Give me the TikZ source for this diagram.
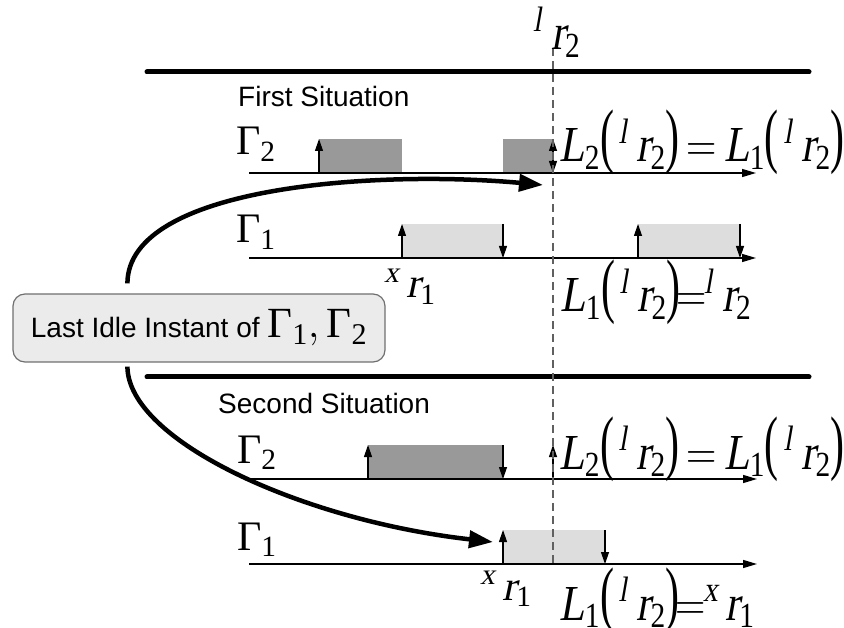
\documentclass[tikz,border=0pt]{standalone}
\usepackage{fix-cm}
\usepackage{amsmath}
\usepackage{graphicx}
\usepackage{fontspec}
\setmainfont{Liberation Serif}
\setsansfont{Liberation Sans}
\newfontfamily\tmsfont{Liberation Serif}
\newfontfamily\tmsit{Liberation Serif}[FakeSlant=0.21]
\usetikzlibrary{arrows.meta,calc}
\definecolor{darkbox}{HTML}{999999}
\definecolor{lightbox}{HTML}{DDDDDD}
\definecolor{boxfill}{HTML}{EBEBEB}
\definecolor{boxborder}{HTML}{707070}
\definecolor{dashgray}{HTML}{606060}
\newcommand{\ti}[1]{\text{\tmsit #1}}
\newcommand{\tu}[1]{\text{\tmsfont #1}}
\newcommand{\lpar}{\mathopen{\raisebox{0.04em}{\scalebox{1}[1.42]{\tmsfont(}}}}
\newcommand{\rpar}{\mathclose{\raisebox{0.04em}{\scalebox{1}[1.42]{\tmsfont)}}}}
\newcommand{\lrt}{{}^{\ti{l}}\mkern4mu\ti{r}_{\tu{2}}}
\newcommand{\xro}{{}^{\ti{x}}\mkern3mu\ti{r}_{\tu{1}}}
\newcommand{\Lof}[1]{\ti{L}_{\tu{#1}}\lpar\mkern2mu\lrt\rpar}
\newcommand{\vstretch}[1]{\scalebox{1}[1.2]{#1}}
\begin{document}
\begin{tikzpicture}[x=1pt,y=-1pt,
  axis/.style={line width=1.3pt, -{Triangle[length=14pt,width=8pt]}},
  evarrow/.style={line width=1.2pt, -{Triangle[length=12pt,width=8pt]}},
  evboth/.style={line width=1.2pt, {Triangle[length=12pt,width=8pt]}-{Triangle[length=12pt,width=8pt]}},
  rule/.style={line width=5pt, line cap=round},
  bigarrow/.style={line width=4.5pt, -{Triangle[length=24pt,width=17pt]}},
  darkbusy/.style={fill=darkbox},
  lightbusy/.style={fill=lightbox},
  gam/.style={font=\tmsfont\fontsize{42}{48}\selectfont, inner sep=0pt, anchor=base west},
  eq/.style={font=\tmsfont\fontsize{42}{48}\selectfont, inner sep=0pt, anchor=base west},
  sit/.style={font=\sffamily\fontsize{28}{32}\selectfont, inner sep=0pt, anchor=west},
  instant/.style={draw=dashgray, line width=1.4pt, dash pattern=on 8pt off 5pt},
]
\useasboundingbox (0,0) rectangle (844,628);

% thick separators
\coordinate (r1w) at (147,72); \coordinate (r1e) at (809,72);
\coordinate (r2w) at (147,377); \coordinate (r2e) at (809,377);
\draw[rule] (r1w) -- (r1e);
\draw[rule] (r2w) -- (r2e);

% situation titles
\node[sit] (first) at (238,96) {First Situation};
\node[sit] (second) at (218,403) {Second Situation};

% axes
\coordinate (g2as) at (249,173); \coordinate (g2ae) at (756,173);
\coordinate (g1as) at (249,258); \coordinate (g1ae) at (756,258);
\coordinate (h2as) at (249,479); \coordinate (h2ae) at (757,479);
\coordinate (h1as) at (249,564); \coordinate (h1ae) at (757,564);

% busy periods, first situation
\fill[darkbusy] (319,139) rectangle (402,173);
\fill[darkbusy] (503,139) rectangle (553,173);
\fill[lightbusy] (402,224) rectangle (503,258);
\fill[lightbusy] (638,224) rectangle (740,258);
% busy periods, second situation
\fill[darkbusy] (368,445) rectangle (503,479);
\fill[lightbusy] (503,530) rectangle (605,564);

\draw[axis] (g2as) -- (g2ae);
\draw[axis] (g1as) -- (g1ae);
\draw[axis] (h2as) -- (h2ae);
\draw[axis] (h1as) -- (h1ae);

% arrivals / departures, first situation
\draw[evarrow] (319,173) -- (319,139);
\draw[evboth] (553,173) -- (553,139);
\draw[evarrow] (402,258) -- (402,224);
\draw[evarrow] (503,224) -- (503,258);
\draw[evarrow] (638,258) -- (638,224);
\draw[evarrow] (740,224) -- (740,258);
% second situation
\draw[evarrow] (368,479) -- (368,445);
\draw[evarrow] (503,445) -- (503,479);
\draw[evarrow] (553,479) -- (553,445);
\draw[evarrow] (503,564) -- (503,530);
\draw[evarrow] (605,530) -- (605,564);

% dashed instant line
\coordinate (dtop) at (553,48); \coordinate (dbot) at (553,564);
\draw[instant] (dtop) -- (dbot);

% labels
\node[eq] (lr2) at (533,50) {\vstretch{$\lrt$}};
\node[gam] (G2a) at (236,155) {$\tu{Γ}_{\tu{2}}$};
\node[gam] (G1a) at (236,243) {$\tu{Γ}_{\tu{1}}$};
\node[gam] (G2b) at (237,463) {$\tu{Γ}_{\tu{2}}$};
\node[gam] (G1b) at (237,550) {$\tu{Γ}_{\tu{1}}$};
\node[gam] (xr1a) at (384,298) {$\xro$};
\node[gam] (xr1b) at (480,600) {$\xro$};

\node[eq] (eq1) at (559,162) {\vstretch{$\Lof{2}\,{=}\,\Lof{1}$}};
\node[eq] (eq2) at (560,312) {\vstretch{$\Lof{1}\mkern-2mu{=}\mkern-1mu\lrt$}};
\node[eq] (eq3) at (559,469) {\vstretch{$\Lof{2}\,{=}\,\Lof{1}$}};
\node[eq] (eq4) at (559,620) {\vstretch{$\Lof{1}\mkern-2mu{=}\mkern-1mu\xro$}};

% last idle instant box
\node[draw=boxborder, fill=boxfill, rounded corners=12pt, line width=1.2pt,
      minimum width=372pt, minimum height=68pt, inner sep=0pt] (idle) at (199,328)
  {\sffamily\fontsize{28}{32}\selectfont Last Idle Instant of\ \tmsfont\fontsize{43}{50}\selectfont$\tu{Γ}_{\tu{1}},\tu{Γ}_{\tu{2}}$};

% curved arrows
\coordinate (topstart) at ($(idle.north west)+(115,-10)$);
\coordinate (topend) at (543,185);
\coordinate (botstart) at ($(idle.south west)+(115,4)$);
\coordinate (botend) at (493,542);
\draw[bigarrow] (topstart) .. controls (128,185) and (380,170) .. (topend);
\draw[bigarrow] (botstart) .. controls (128,440) and (300,520) .. (botend);
\end{tikzpicture}
\end{document}
